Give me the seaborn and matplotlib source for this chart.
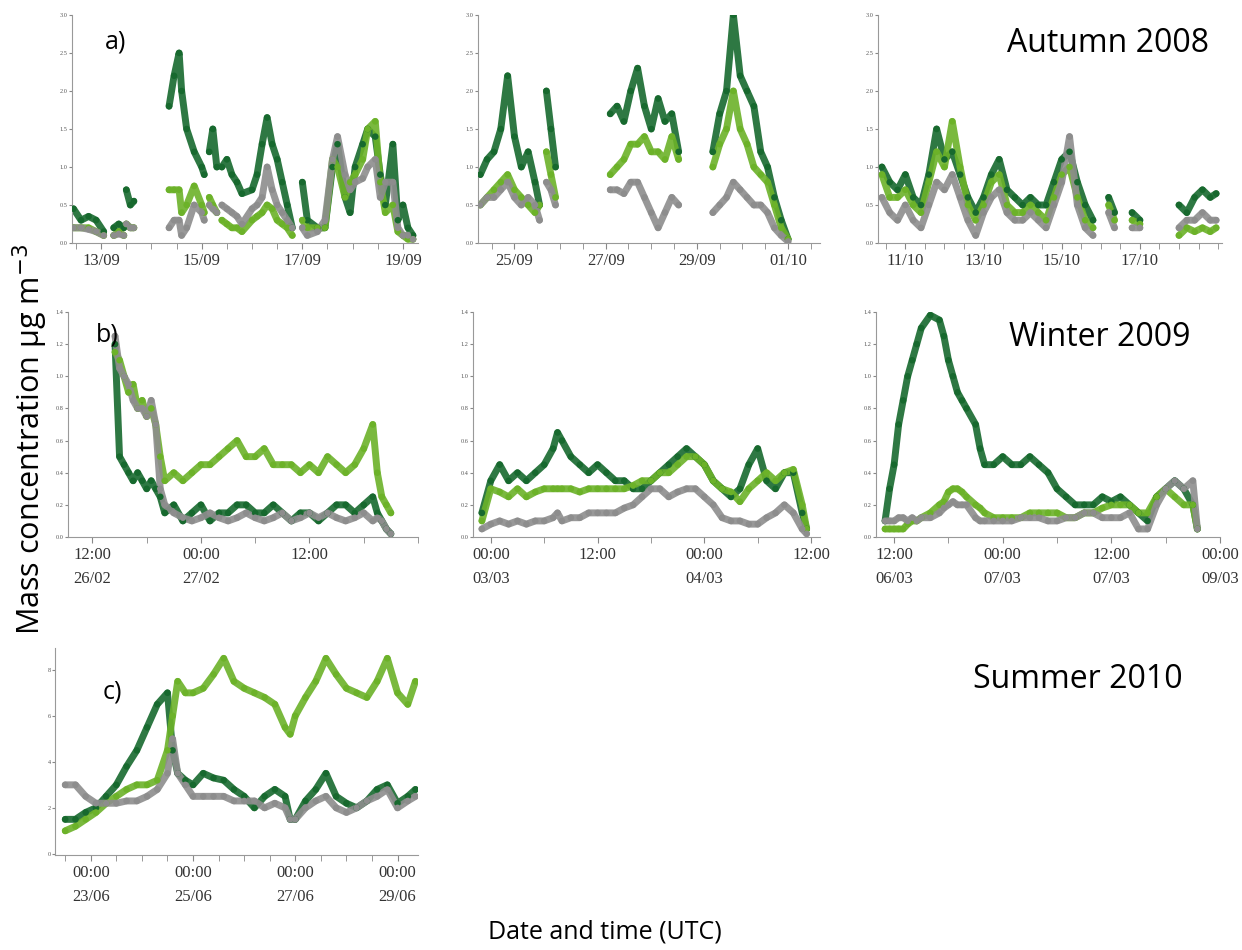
import numpy as np
import pandas as pd
import matplotlib
matplotlib.use("Agg")
import matplotlib.pyplot as plt
import seaborn as sns

sns.set_style("white")
N = np.nan

# ---------------- data ----------------
# a) Autumn 2008, x = day of month
a1_t = [12.45,12.6,12.75,12.9,13.05,13.15,13.25,13.35,13.45,13.48,13.5,13.58,13.65,14.0,14.35,14.45,14.55,14.6,14.7,14.85,15.0,15.05,15.1,15.15,15.22,15.3,15.35,15.4,15.5,15.6,15.7,15.8,16.0,16.1,16.2,16.3,16.4,16.5,16.6,16.7,16.8,16.9,17.0,17.1,17.3,17.45,17.6,17.7,17.85,17.95,18.05,18.2,18.3,18.45,18.55,18.65,18.8,18.9,19.0,19.1,19.2]
a1_dark = [0.45,0.3,0.35,0.3,0.15,N,0.2,0.25,0.2,N,0.7,0.5,0.55,N,1.8,2.2,2.5,2.0,1.5,1.2,1.0,0.9,N,1.2,1.5,1.0,N,1.0,1.1,0.9,0.8,0.65,0.7,0.9,1.3,1.65,1.3,1.1,0.8,0.5,0.2,N,0.8,0.3,0.2,0.2,1.0,1.3,0.6,0.4,1.0,1.3,1.5,1.4,0.9,0.5,1.3,0.3,0.5,0.2,0.1]
a1_light = [0.2,0.2,0.2,0.15,0.1,N,0.1,0.15,0.1,N,0.25,0.2,0.2,N,0.7,0.7,0.7,0.4,0.5,0.75,0.5,0.4,N,0.6,0.5,0.4,N,0.3,0.25,0.2,0.2,0.15,0.3,0.35,0.4,0.5,0.45,0.3,0.25,0.2,0.1,N,0.3,0.2,0.2,0.2,1.1,1.0,0.6,0.8,0.9,1.1,1.5,1.6,0.8,0.4,0.5,0.15,0.1,0.05,0.05]
a1_gray = [0.2,0.2,0.18,0.15,0.1,N,0.1,0.12,0.1,N,0.25,0.2,0.2,N,0.2,0.3,0.3,0.1,0.2,0.5,0.4,0.3,N,0.5,0.45,0.4,N,0.5,0.45,0.4,0.35,0.25,0.45,0.5,0.6,1.0,0.7,0.5,0.4,0.3,0.2,N,0.2,0.1,0.15,0.3,1.1,1.4,0.9,0.7,0.8,0.85,1.0,1.1,0.6,0.8,0.8,0.2,0.1,0.1,0.05]

a2_t = [24.25,24.4,24.55,24.7,24.85,25.0,25.15,25.3,25.45,25.55,25.6,25.7,25.8,25.9,26.5,27.1,27.25,27.4,27.55,27.7,27.85,28.0,28.15,28.3,28.45,28.6,28.9,29.35,29.5,29.65,29.8,29.95,30.1,30.25,30.4,30.55,30.7,30.85,31.0]
a2_dark = [0.9,1.1,1.2,1.5,2.2,1.4,1.0,1.2,0.8,0.5,N,2.0,1.5,1.0,N,1.7,1.8,1.6,2.0,2.3,1.8,1.5,1.9,1.6,1.7,1.2,N,1.2,1.7,2.0,3.0,2.2,2.0,1.8,1.2,1.0,0.6,0.3,0.05]
a2_light = [0.5,0.6,0.7,0.8,0.9,0.7,0.6,0.5,0.4,0.5,N,1.2,0.9,0.6,N,0.9,1.0,1.1,1.3,1.3,1.4,1.2,1.2,1.1,1.4,1.1,N,1.0,1.3,1.5,2.0,1.5,1.3,1.0,0.9,0.8,0.5,0.2,0.05]
a2_gray = [0.5,0.6,0.6,0.7,0.8,0.6,0.5,0.6,0.5,0.3,N,0.8,0.7,0.5,N,0.7,0.7,0.65,0.8,0.8,0.6,0.4,0.2,0.4,0.6,0.5,N,0.4,0.5,0.6,0.8,0.7,0.6,0.5,0.5,0.4,0.2,0.1,0.02]

a3_t = [10.4,10.6,10.8,11.0,11.2,11.4,11.6,11.8,12.0,12.2,12.4,12.6,12.8,13.0,13.2,13.4,13.6,13.8,14.0,14.2,14.4,14.6,14.8,15.0,15.2,15.4,15.6,15.8,16.0,16.2,16.35,16.5,16.8,17.0,17.5,18.0,18.2,18.4,18.6,18.8,18.95]
a3_dark = [1.0,0.8,0.7,0.9,0.6,0.5,0.9,1.5,1.1,1.2,0.9,0.6,0.4,0.6,0.9,1.1,0.7,0.6,0.5,0.6,0.5,0.5,0.8,1.1,1.2,0.8,0.5,0.3,N,0.6,0.4,N,0.4,0.3,N,0.5,0.4,0.6,0.7,0.6,0.65]
a3_light = [0.9,0.6,0.6,0.7,0.5,0.4,0.8,1.2,1.0,1.6,1.0,0.5,0.3,0.5,0.8,0.9,0.5,0.4,0.4,0.5,0.4,0.3,0.6,0.9,1.0,0.6,0.3,0.2,N,0.5,0.3,N,0.3,0.25,N,0.1,0.2,0.15,0.2,0.15,0.2]
a3_gray = [0.6,0.4,0.3,0.5,0.3,0.2,0.5,0.8,0.7,0.9,0.6,0.3,0.1,0.4,0.6,0.7,0.4,0.3,0.3,0.4,0.3,0.2,0.5,0.8,1.4,0.5,0.2,0.1,N,0.4,0.2,N,0.2,0.2,N,0.2,0.3,0.3,0.4,0.3,0.3]

# b) Winter 2009, x = hours
b1_t = [14.5,15,15.5,16,16.5,17,17.5,18,18.5,19,19.5,20,21,22,23,24,25,26,27,28,29,30,31,32,33,34,35,36,37,38,39,40,41,42,43,43.5,44,44.5,45]
b1_dark = [1.2,0.5,0.45,0.4,0.35,0.4,0.35,0.3,0.35,0.3,0.25,0.15,0.2,0.1,0.15,0.2,0.1,0.15,0.15,0.2,0.2,0.15,0.15,0.2,0.15,0.1,0.15,0.15,0.1,0.15,0.2,0.2,0.15,0.2,0.25,0.15,0.1,0.05,0.02]
b1_light = [1.15,1.1,1.0,0.9,0.95,0.8,0.85,0.75,0.8,0.7,0.5,0.35,0.4,0.35,0.4,0.45,0.45,0.5,0.55,0.6,0.5,0.5,0.55,0.45,0.45,0.45,0.4,0.45,0.4,0.5,0.45,0.4,0.45,0.55,0.7,0.4,0.25,0.2,0.15]
b1_gray = [1.25,1.05,1.0,0.95,0.85,0.8,0.8,0.75,0.85,0.7,0.3,0.2,0.15,0.12,0.1,0.12,0.15,0.12,0.1,0.12,0.15,0.12,0.1,0.12,0.15,0.1,0.12,0.15,0.12,0.15,0.12,0.1,0.12,0.15,0.1,0.12,0.1,0.05,0.02]

b2_t = [-1,0,1,2,3,4,5,6,7,7.5,8,9,10,11,12,13,14,15,16,17,18,19,20,21,22,23,24,25,26,27,28,29,30,31,32,33,34,35,35.5]
b2_dark = [0.15,0.35,0.45,0.35,0.4,0.35,0.4,0.45,0.55,0.65,0.6,0.5,0.45,0.4,0.45,0.4,0.35,0.35,0.3,0.3,0.35,0.4,0.45,0.5,0.55,0.5,0.45,0.35,0.3,0.25,0.3,0.45,0.55,0.35,0.3,0.4,0.4,0.15,0.05]
b2_light = [0.1,0.3,0.28,0.25,0.3,0.25,0.28,0.3,0.3,0.3,0.3,0.3,0.28,0.3,0.3,0.3,0.3,0.3,0.32,0.35,0.35,0.4,0.4,0.45,0.5,0.5,0.45,0.35,0.3,0.28,0.22,0.3,0.35,0.4,0.35,0.4,0.42,0.2,0.05]
b2_gray = [0.05,0.08,0.1,0.08,0.1,0.08,0.1,0.1,0.12,0.15,0.1,0.12,0.12,0.15,0.15,0.15,0.15,0.18,0.2,0.25,0.3,0.3,0.25,0.28,0.3,0.3,0.25,0.2,0.12,0.1,0.1,0.08,0.08,0.12,0.15,0.2,0.15,0.05,0.02]

b3_t = [11,11.5,12,12.5,13,13.5,14,14.5,15,16,17,17.5,18,18.5,19,19.5,20,21,21.5,22,23,24,25,26,27,28,29,30,31,32,33,34,35,36,37,38,39,40,41,42,43,44,45,45.5]
b3_dark = [0.1,0.3,0.45,0.7,0.85,1.0,1.1,1.2,1.3,1.38,1.35,1.25,1.1,1.0,0.9,0.85,0.8,0.7,0.55,0.45,0.45,0.5,0.45,0.45,0.5,0.45,0.4,0.3,0.25,0.2,0.2,0.2,0.25,0.22,0.25,0.2,0.15,0.1,0.25,0.3,0.35,0.3,0.2,0.05]
b3_light = [0.05,0.05,0.05,0.05,0.05,0.08,0.1,0.1,0.12,0.15,0.2,0.22,0.28,0.3,0.3,0.28,0.25,0.2,0.18,0.15,0.12,0.12,0.12,0.12,0.15,0.15,0.15,0.15,0.12,0.12,0.15,0.15,0.18,0.2,0.2,0.2,0.15,0.15,0.25,0.3,0.25,0.2,0.2,0.05]
b3_gray = [0.1,0.1,0.1,0.12,0.12,0.1,0.12,0.1,0.12,0.12,0.15,0.18,0.2,0.22,0.2,0.2,0.2,0.12,0.1,0.1,0.1,0.1,0.1,0.12,0.12,0.12,0.1,0.1,0.12,0.12,0.15,0.15,0.12,0.12,0.12,0.15,0.05,0.05,0.2,0.3,0.35,0.3,0.35,0.05]

# c) Summer 2010, x = day of month
c_t = [22.5,22.7,22.9,23.1,23.3,23.5,23.7,23.9,24.1,24.3,24.5,24.6,24.7,24.85,25.0,25.2,25.4,25.6,25.8,26.0,26.2,26.4,26.6,26.8,26.9,27.0,27.2,27.4,27.6,27.8,28.0,28.2,28.4,28.6,28.8,29.0,29.2,29.35]
c_light = [1.0,1.2,1.5,1.8,2.2,2.5,2.8,3.0,3.0,3.2,4.5,6.0,7.5,7.0,7.0,7.2,7.8,8.5,7.5,7.2,7.0,6.8,6.5,5.5,5.2,6.0,6.8,7.5,8.5,7.8,7.2,7.0,6.8,7.5,8.5,7.0,6.5,7.5]
c_dark = [1.5,1.5,1.8,2.0,2.5,3.0,3.8,4.5,5.5,6.5,7.0,4.5,3.5,3.2,3.0,3.5,3.3,3.2,2.8,2.5,2.0,2.5,2.8,2.5,1.5,1.5,2.3,2.8,3.5,2.5,2.2,2.0,2.3,2.8,3.0,2.2,2.5,2.8]
c_gray = [3.0,3.0,2.5,2.2,2.2,2.2,2.3,2.3,2.5,2.8,3.5,5.0,3.5,3.0,2.5,2.5,2.5,2.5,2.3,2.3,2.3,2.0,2.2,2.0,1.5,1.5,2.0,2.3,2.5,2.0,1.8,2.0,2.3,2.5,2.8,2.0,2.3,2.5]

# tick labels
a_yticks = [0, 0.5, 1.0, 1.5, 2.0, 2.5, 3.0]
b_yticks = [0, 0.2, 0.4, 0.6, 0.8, 1.0, 1.2, 1.4]
c_yticks = [0, 2, 4, 6, 8]
a1_ticks, a1_labels = [13, 15, 17, 19], ["13/09", "15/09", "17/09", "19/09"]
a2_ticks, a2_labels = [25, 27, 29, 31], ["25/09", "27/09", "29/09", "01/10"]
a3_ticks, a3_labels = [11, 13, 15, 17], ["11/10", "13/10", "15/10", "17/10"]
b1_ticks, b1_labels = [12, 24, 36], ["12:00\n26/02", "00:00\n27/02", "12:00"]
b2_ticks, b2_labels = [0, 12, 24, 36], ["00:00\n03/03", "12:00", "00:00\n04/03", "12:00"]
b3_ticks, b3_labels = [12, 24, 36, 48], ["12:00\n06/03", "00:00\n07/03", "12:00\n07/03", "00:00\n09/03"]
c_ticks, c_labels = [23, 25, 27, 29], ["00:00\n23/06", "00:00\n25/06", "00:00\n27/06", "00:00\n29/06"]

DARK, LIGHT, GRAY = "#17692e", "#6cb229", "#8d8d8d"

# ---------------- figure ----------------
fig = plt.figure(figsize=(12.42, 9.5), dpi=100)
W, H = 1242, 950
def add_ax(x0, x1, y0, y1):
    return fig.add_axes([x0 / W, 1 - y1 / H, (x1 - x0) / W, (y1 - y0) / H])

panels = [
    (add_ax(72, 418, 15, 243), a1_t, a1_dark, a1_light, a1_gray, (12.42, 19.3), (0, 3.0), a_yticks, "{:.1f}", a1_ticks, a1_labels, 0.5),
    (add_ax(478, 820, 15, 243), a2_t, a2_dark, a2_light, a2_gray, (24.2, 31.7), (0, 3.0), a_yticks, "{:.1f}", a2_ticks, a2_labels, 0.5),
    (add_ax(878, 1222, 15, 243), a3_t, a3_dark, a3_light, a3_gray, (10.3, 19.1), (0, 3.0), a_yticks, "{:.1f}", a3_ticks, a3_labels, 0.5),
    (add_ax(68, 418, 312, 537), b1_t, b1_dark, b1_light, b1_gray, (9.3, 48), (0, 1.4), b_yticks, "{:.1f}", b1_ticks, b1_labels, 6),
    (add_ax(473, 820, 312, 537), b2_t, b2_dark, b2_light, b2_gray, (-2, 37), (0, 1.4), b_yticks, "{:.1f}", b2_ticks, b2_labels, 6),
    (add_ax(876, 1220, 312, 537), b3_t, b3_dark, b3_light, b3_gray, (10, 48), (0, 1.4), b_yticks, "{:.1f}", b3_ticks, b3_labels, 6),
    (add_ax(55, 418, 648, 855), c_t, c_dark, c_light, c_gray, (22.3, 29.4), (-0.05, 8.95), c_yticks, "{:.0f}", c_ticks, c_labels, 0.5),
]

for ax, t, d, l, g, xl, yl, yt, fmt, xt, xlab, minor in panels:
    for vals, col in ((d, DARK), (l, LIGHT), (g, GRAY)):
        ax.plot(t, vals, color=col, lw=5, alpha=0.9, solid_capstyle="round", zorder=2)
        df = pd.DataFrame({"t": t, "v": vals}).dropna()
        sns.scatterplot(data=df, x="t", y="v", ax=ax, color=col, s=22, edgecolor="none", zorder=3, legend=False)
    ax.set_xlim(*xl)
    ax.set_ylim(*yl)
    ax.set_yticks(yt)
    ax.set_yticklabels([fmt.format(v) for v in yt], fontsize=4.5, color="#555555", family="Liberation Serif")
    ax.set_xticks(xt)
    ax.set_xticklabels(xlab, fontsize=12, color="#333333", family="Liberation Serif", linespacing=1.6)
    ax.xaxis.set_minor_locator(matplotlib.ticker.MultipleLocator(minor))
    ax.tick_params(axis="x", which="both", direction="out", length=4, color="#888888", bottom=True)
    ax.tick_params(axis="y", direction="out", length=2, color="#888888", pad=1, left=True)
    ax.set_xlabel("")
    ax.set_ylabel("")
    for s in ("top", "right"):
        ax.spines[s].set_visible(False)
    for s in ("left", "bottom"):
        ax.spines[s].set_color("#999999")
        ax.spines[s].set_linewidth(0.8)
    ax.set_facecolor("white")

FONT = ["Open Sans", "DejaVu Sans"]
fig.text(105 / W, 1 - 42 / H, "a)", fontsize=18, family=FONT, va="center", color="black")
fig.text(96 / W, 1 - 335 / H, "b)", fontsize=18, family=FONT, va="center", color="black")
fig.text(103 / W, 1 - 692 / H, "c)", fontsize=18, family=FONT, va="center", color="black")
fig.text(1108 / W, 1 - 44 / H, "Autumn 2008", fontsize=23, family=FONT, ha="center", va="center", color="black")
fig.text(1100 / W, 1 - 338 / H, "Winter 2009", fontsize=23, family=FONT, ha="center", va="center", color="black")
fig.text(1078 / W, 1 - 680 / H, "Summer 2010", fontsize=23, family=FONT, ha="center", va="center", color="black")
fig.text(30 / W, 1 - 440 / H, "Mass concentration \u03bcg m$^{-3}$", fontsize=22, family=FONT,
         rotation=90, ha="center", va="center", color="black")
fig.text(605 / W, 1 - 932 / H, "Date and time (UTC)", fontsize=18, family=FONT, ha="center", va="center", color="black")

fig.savefig("out.png", dpi=100, facecolor="white")
